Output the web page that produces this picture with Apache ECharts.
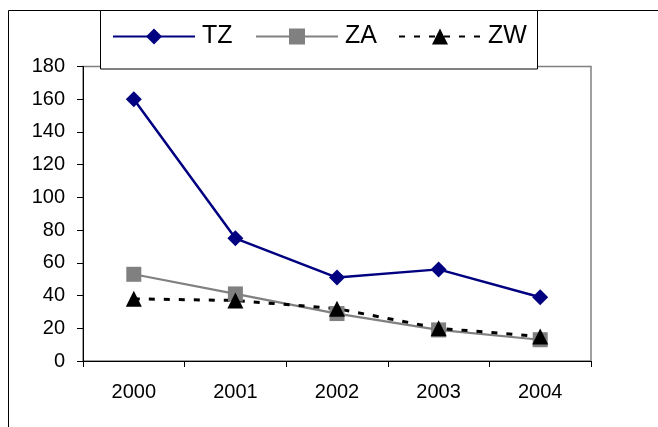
<!DOCTYPE html>
<html>
<head>
<meta charset="utf-8">
<script src="https://cdn.jsdelivr.net/npm/echarts@6/dist/echarts.min.js"></script>
<style>
html,body{margin:0;padding:0;background:#fff;}
#chart{width:658px;height:427px;}
</style>
</head>
<body>
<div id="chart"></div>
<script>
var categories = ['2000', '2001', '2002', '2003', '2004'];
var seriesTZ = [160, 75, 51, 56, 39];
var seriesZA = [53, 41, 29, 19, 13];
var seriesZW = [38, 37, 32, 20, 15];
var yTicks = { min: 0, max: 180, interval: 20 };

var FONT = "'Liberation Sans', Arial, sans-serif";
var chart = echarts.init(document.getElementById('chart'), null, { renderer: 'canvas' });

function legendAt(name, left) {
  return {
    data: [name],
    left: left,
    top: 24,
    padding: 0,
    itemWidth: 82,
    itemHeight: 20,
    selectedMode: false,
    textStyle: { fontFamily: FONT, fontSize: 25, color: '#000', padding: [0, 0, 0, 2] }
  };
}

chart.setOption({
  animation: false,
  backgroundColor: '#fff',
  graphic: [
    { type: 'rect', z: 3, shape: { x: 8.5, y: 10.5, width: 700, height: 500 },
      style: { fill: 'none', stroke: '#000', lineWidth: 1 } },
    { type: 'rect', z: 3, shape: { x: 100.5, y: 10.5, width: 437, height: 58.5 },
      style: { fill: '#fff', stroke: '#000', lineWidth: 1 } }
  ],
  legend: [legendAt('TZ', 112), legendAt('ZA', 255), legendAt('ZW', 398)],
  grid: {
    left: 83, right: 67, top: 66.5, bottom: 66,
    show: true, borderColor: '#808080', borderWidth: 1.5, backgroundColor: '#fff'
  },
  xAxis: {
    type: 'category',
    data: categories,
    boundaryGap: true,
    axisLine: { lineStyle: { color: '#000', width: 1 } },
    axisTick: { show: true, inside: false, length: 6, alignWithLabel: false, lineStyle: { color: '#000' } },
    axisLabel: { fontFamily: FONT, fontSize: 20, color: '#000', margin: 21 },
    splitLine: { show: false }
  },
  yAxis: {
    type: 'value',
    min: yTicks.min, max: yTicks.max, interval: yTicks.interval,
    axisLine: { show: true, lineStyle: { color: '#000', width: 1 } },
    axisTick: { show: true, inside: false, length: 6, lineStyle: { color: '#000' } },
    axisLabel: { fontFamily: FONT, fontSize: 20, color: '#000', margin: 18 },
    splitLine: { show: false }
  },
  series: [
    {
      name: 'TZ', type: 'line', data: seriesTZ,
      symbol: 'diamond', symbolSize: 16,
      lineStyle: { color: '#000080', width: 2.5 },
      itemStyle: { color: '#000080' }
    },
    {
      name: 'ZA', type: 'line', data: seriesZA,
      symbol: 'rect', symbolSize: 15,
      lineStyle: { color: '#808080', width: 2.2 },
      itemStyle: { color: '#808080' }
    },
    {
      name: 'ZW', type: 'line', data: seriesZW,
      symbol: 'triangle', symbolSize: 16,
      lineStyle: { color: '#000', width: 3, type: [6, 9] },
      itemStyle: { color: '#000' }
    }
  ]
});
</script>
</body>
</html>
